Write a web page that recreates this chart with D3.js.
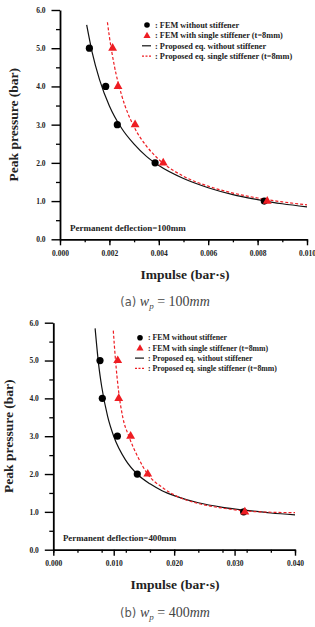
<!DOCTYPE html>
<html>
<head>
<meta charset="utf-8">
<script src="https://cdn.jsdelivr.net/npm/d3@7"></script>
<style>
  body { margin: 0; background: #fff; }
  svg { display: block; }
  text { font-family: "Liberation Serif", "Times New Roman", serif; }
</style>
</head>
<body>
<svg id="chart" width="315" height="627"></svg>
<script>
// pressure levels of the FEM runs (bar)
const pressureLevels = [5.0, 4.0, 3.0, 2.0, 1.0];
const yTicks = [0, 1, 2, 3, 4, 5, 6];

// (a) wp = 100mm -- impulse (bar.s) at each pressure level
const xTicksA = [0, 0.002, 0.004, 0.006, 0.008, 0.010];
const femPlainA = [0.00119, 0.00185, 0.00232, 0.00385, 0.00827];
const femStiffA = [0.00213, 0.00235, 0.00304, 0.00418, 0.00839];
const eqPlainA = [[0.00108, 5.61], [0.0013, 4.90], [0.0016, 4.18], [0.002, 3.49], [0.0025, 2.90],
  [0.003, 2.49], [0.0035, 2.17], [0.004, 1.93], [0.005, 1.59], [0.006, 1.35], [0.007, 1.17],
  [0.008, 1.04], [0.009, 0.93], [0.010, 0.85]];
const eqStiffA = [[0.00192, 5.68], [0.002, 5.30], [0.0022, 4.54], [0.0025, 3.76], [0.003, 2.94],
  [0.0035, 2.44], [0.004, 2.09], [0.005, 1.65], [0.006, 1.39], [0.007, 1.21], [0.008, 1.08],
  [0.009, 0.98], [0.010, 0.90]];

// (b) wp = 400mm
const xTicksB = [0, 0.010, 0.020, 0.030, 0.040];
const femPlainB = [0.00773, 0.00811, 0.0106, 0.0139, 0.0315];
const femStiffB = [0.01066, 0.01083, 0.0128, 0.01563, 0.0317];
const eqPlainB = [[0.00692, 5.85], [0.0075, 4.90], [0.008, 4.32], [0.009, 3.52], [0.010, 3.00],
  [0.012, 2.36], [0.014, 1.98], [0.016, 1.74], [0.018, 1.56], [0.020, 1.43], [0.024, 1.24],
  [0.028, 1.12], [0.032, 1.04], [0.036, 0.97], [0.040, 0.92]];
const eqStiffB = [[0.00993, 5.79], [0.0103, 5.00], [0.0108, 4.20], [0.0115, 3.50], [0.0125, 3.00],
  [0.014, 2.45], [0.0156, 2.00], [0.018, 1.65], [0.020, 1.45], [0.024, 1.22], [0.028, 1.10],
  [0.032, 1.02], [0.036, 0.99], [0.040, 0.98]];

const legendLabels = [": FEM without stiffener", ": FEM with single stiffener (t=8mm)",
  ": Proposed eq. without stiffener", ": Proposed eq. single stiffener (t=8mm)"];

const RED = "#ee1d23";
const SERIF = "Liberation Serif, Times New Roman, serif";
const svg = d3.select("#chart");

function drawPanel(p) {
  const x = d3.scaleLinear().domain([0, p.xMax]).range([p.x0, p.x1]);
  const y = d3.scaleLinear().domain([0, 6]).range([p.y0, p.y1]);
  const g = svg.append("g");

  // minor ticks
  const minorX = d3.range(0, p.xMax + 1e-9, p.xMax / 10);
  g.append("g").attr("transform", "translate(0," + p.y0 + ")")
    .call(d3.axisBottom(x).tickValues(minorX).tickSize(3).tickFormat("").tickSizeOuter(0))
    .call(a => a.select(".domain").remove())
    .selectAll("line").attr("stroke-width", 1.3);
  g.append("g").attr("transform", "translate(" + p.x0 + ",0)")
    .call(d3.axisLeft(y).tickValues(d3.range(0.5, 6, 1)).tickSize(4).tickFormat("").tickSizeOuter(0))
    .call(a => a.select(".domain").remove())
    .selectAll("line").attr("stroke-width", 1.3);

  const xa = g.append("g").attr("transform", "translate(0," + p.y0 + ")")
    .call(d3.axisBottom(x).tickValues(p.xTicks).tickSize(6).tickSizeOuter(0).tickPadding(5)
      .tickFormat(d3.format(".3f")));
  const ya = g.append("g").attr("transform", "translate(" + p.x0 + ",0)")
    .call(d3.axisLeft(y).tickValues(yTicks).tickSize(8.5).tickSizeOuter(0).tickPadding(6)
      .tickFormat(d3.format(".1f")));
  [xa, ya].forEach(a => {
    a.select(".domain").attr("stroke-width", 1.8);
    a.selectAll(".tick line").attr("stroke-width", 1.4);
    a.selectAll(".tick text").attr("font-family", SERIF)
      .attr("font-weight", "bold").attr("font-size", p.tickFont).attr("fill", "#222");
  });

  const line = d3.line().x(d => x(d[0])).y(d => y(d[1])).curve(d3.curveMonotoneX);
  g.append("path").datum(p.eqPlain).attr("d", line)
    .attr("fill", "none").attr("stroke", "#111").attr("stroke-width", 1.2);
  g.append("path").datum(p.eqStiff).attr("d", line)
    .attr("fill", "none").attr("stroke", RED).attr("stroke-width", 1.2)
    .attr("stroke-dasharray", "3,2");

  g.selectAll(".dot").data(p.femPlain).enter().append("circle")
    .attr("cx", (d) => x(d)).attr("cy", (d, i) => y(pressureLevels[i]))
    .attr("r", 3.6).attr("fill", "#000");
  g.selectAll(".tri").data(p.femStiff).enter().append("path")
    .attr("d", d3.symbol(d3.symbolTriangle, 34))
    .attr("transform", (d, i) => "translate(" + x(d) + "," + y(pressureLevels[i]) + ")")
    .attr("fill", RED);

  // legend
  const lg = g.append("g");
  legendLabels.forEach((t, i) => {
    const ly = p.legY + i * p.legStep;
    if (i === 0) lg.append("circle").attr("cx", p.legX).attr("cy", ly).attr("r", 2.8).attr("fill", "#000");
    if (i === 1) lg.append("path").attr("d", d3.symbol(d3.symbolTriangle, 22))
      .attr("transform", "translate(" + p.legX + "," + (ly + 0.5) + ")").attr("fill", RED);
    if (i === 2) lg.append("line").attr("x1", p.legX - 5).attr("x2", p.legX + 4)
      .attr("y1", ly).attr("y2", ly).attr("stroke", "#111").attr("stroke-width", 1.2);
    if (i === 3) lg.append("line").attr("x1", p.legX - 5).attr("x2", p.legX + 4)
      .attr("y1", ly).attr("y2", ly).attr("stroke", RED).attr("stroke-width", 1.2)
      .attr("stroke-dasharray", "2,1.5");
    lg.append("text").attr("x", p.legX + 8).attr("y", ly).attr("dy", "0.35em")
      .attr("font-weight", "bold").attr("font-size", p.legFont).attr("fill", "#222").text(t);
  });

  g.append("text").attr("x", p.noteX).attr("y", p.noteY)
    .attr("font-weight", "bold").attr("font-size", p.noteFont).attr("fill", "#222").text(p.note);

  g.append("text")
    .attr("transform", "translate(" + p.yLabX + "," + ((p.y0 + p.y1) / 2) + ") rotate(-90)")
    .attr("text-anchor", "middle").attr("dy", "0.35em")
    .attr("font-weight", "bold").attr("font-size", 13.5).attr("fill", "#222")
    .text("Peak pressure (bar)");
  g.append("text").attr("x", p.xLabX).attr("y", p.xLabY).attr("text-anchor", "middle")
    .attr("font-weight", "bold").attr("font-size", 13.5).attr("fill", "#222")
    .text("Impulse (bar\u00b7s)");

  const cap = g.append("text").attr("x", p.capX).attr("y", p.capY).attr("text-anchor", "middle")
    .attr("font-size", 13).attr("fill", "#444");
  cap.append("tspan").attr("font-family", "DejaVu Sans, sans-serif").attr("font-size", 11.5)
    .attr("fill", "#555").text(p.capLetter + "  ");
  cap.append("tspan").attr("font-family", SERIF).attr("font-style", "italic").attr("font-size", 14).text("w");
  cap.append("tspan").attr("font-family", SERIF).attr("font-style", "italic").attr("font-size", 9)
    .attr("dy", 3).text("p");
  cap.append("tspan").attr("font-family", SERIF).attr("font-size", 14).attr("dy", -3).text(" = " + p.capValue);
  cap.append("tspan").attr("font-family", SERIF).attr("font-style", "italic").attr("font-size", 14).text("mm");
}

drawPanel({
  xMax: 0.010, xTicks: xTicksA, x0: 60, x1: 307, y0: 239.3, y1: 10,
  femPlain: femPlainA, femStiff: femStiffA, eqPlain: eqPlainA, eqStiff: eqStiffA,
  tickFont: 7.5, legX: 147, legY: 25, legStep: 10.4, legFont: 8.3,
  note: "Permanent deflection=100mm", noteX: 70, noteY: 230.5, noteFont: 9,
  yLabX: 13, xLabX: 185, xLabY: 279, capX: 165, capY: 306, capLetter: "(a)", capValue: "100"
});

drawPanel({
  xMax: 0.040, xTicks: xTicksB, x0: 53.3, x1: 295, y0: 549.7, y1: 322.7,
  femPlain: femPlainB, femStiff: femStiffB, eqPlain: eqPlainB, eqStiff: eqStiffB,
  tickFont: 7.5, legX: 140, legY: 337.7, legStep: 10.2, legFont: 7.8,
  note: "Permanent deflection=400mm", noteX: 63, noteY: 541, noteFont: 8.8,
  yLabX: 8.5, xLabX: 175, xLabY: 589, capX: 165, capY: 617, capLetter: "(b)", capValue: "400"
});
</script>
</body>
</html>
